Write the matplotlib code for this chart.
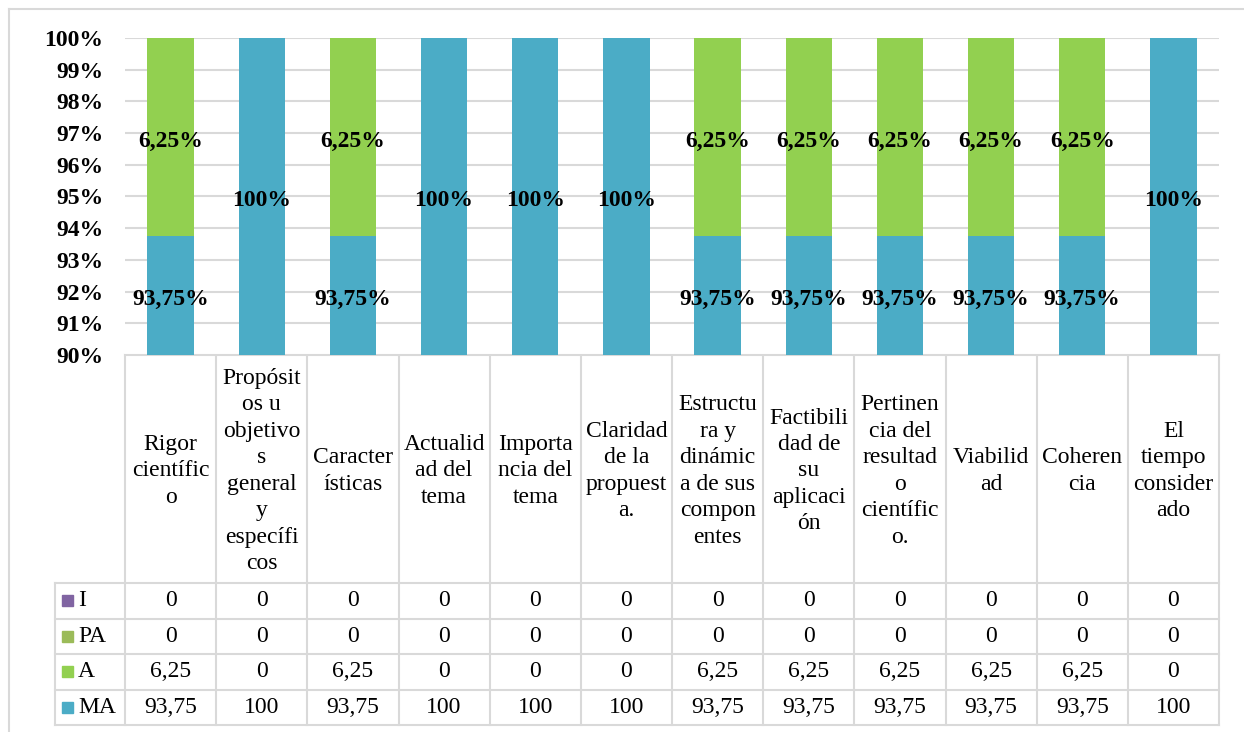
import matplotlib
matplotlib.use("Agg")
import matplotlib.pyplot as plt
from matplotlib.patches import Rectangle
from matplotlib.lines import Line2D

plt.rcParams["font.family"] = ["Liberation Serif", "DejaVu Serif"]

# data
categories = [
    "Rigor\ncientífic\no",
    "Propósit\nos u\nobjetivo\ns\ngeneral\ny\nespecífi\ncos",
    "Caracter\nísticas",
    "Actualid\nad del\ntema",
    "Importa\nncia del\ntema",
    "Claridad\nde la\npropuest\na.",
    "Estructu\nra y\ndinámic\na de sus\ncompon\nentes",
    "Factibili\ndad de\nsu\naplicaci\nón",
    "Pertinen\ncia del\nresultad\no\ncientífic\no.",
    "Viabilid\nad",
    "Coheren\ncia",
    "El\ntiempo\nconsider\nado",
]
I_vals = [0, 0, 0, 0, 0, 0, 0, 0, 0, 0, 0, 0]
PA_vals = [0, 0, 0, 0, 0, 0, 0, 0, 0, 0, 0, 0]
A_vals = [6.25, 0, 6.25, 0, 0, 0, 6.25, 6.25, 6.25, 6.25, 6.25, 0]
MA_vals = [93.75, 100, 93.75, 100, 100, 100, 93.75, 93.75, 93.75, 93.75, 93.75, 100]

series = [("I", I_vals, "#8064A2"), ("PA", PA_vals, "#9BBB59"),
          ("A", A_vals, "#92D050"), ("MA", MA_vals, "#4BACC6")]

def fmt(v):
    s = ("%.2f" % v).rstrip("0").rstrip(".")
    return s.replace(".", ",")

W, H = 1244, 732
fig = plt.figure(figsize=(W / 100, H / 100), dpi=100)

# layout in pixels
left, right, top, bottom = 125, 1219, 38, 355
leg_left = 55
row_tops = [583, 618.5, 654, 689.5, 725]
grid_col = "#D9D9D9"
fs = 17

# outer chart border
bg = fig.add_axes([0, 0, 1, 1])
bg.set_xlim(0, W)
bg.set_ylim(H, 0)
bg.axis("off")
bg.add_line(Line2D([9, W + 5], [9, 9], color=grid_col, lw=1.5))
bg.add_line(Line2D([9, 9], [9, H + 5], color=grid_col, lw=1.5))

# bar chart
ax = fig.add_axes([left / W, 1 - bottom / H, (right - left) / W, (bottom - top) / H])
x = list(range(len(categories)))
bottoms = [0] * len(categories)
ymin, ymax = 90, 100
for name, vals, col in series[::-1]:
    ax.bar(x, vals, bottom=bottoms, width=0.51, color=col, zorder=2)
    for i, v in enumerate(vals):
        if v > 0:
            lo = max(bottoms[i], ymin)
            hi = min(bottoms[i] + v, ymax)
            ax.annotate(fmt(v) + "%", (i, (lo + hi) / 2), xytext=(0, -4),
                        textcoords="offset pixels", ha="center", va="center",
                        fontsize=fs, fontweight="bold", zorder=3)
    bottoms = [b + v for b, v in zip(bottoms, vals)]

ax.set_xlim(-0.5, len(categories) - 0.5)
ax.set_ylim(ymin, ymax)
ax.set_yticks(range(90, 101))
ax.set_yticklabels(["%d%%" % t for t in range(90, 101)], fontsize=fs, fontweight="bold")
ax.tick_params(axis="y", length=0, pad=15.5)
ax.set_xticks([])
ax.grid(axis="y", color=grid_col, lw=1.5, zorder=0)
for s in ax.spines.values():
    s.set_visible(False)

# data table
colw = (right - left) / len(categories)
tab = bg
lc = "#D9D9D9"
lw = 1.5
# horizontal lines
tab.add_line(Line2D([left, right], [bottom, bottom], color=lc, lw=lw))
for yy in row_tops:
    tab.add_line(Line2D([leg_left, right], [yy, yy], color=lc, lw=lw))
# vertical lines
tab.add_line(Line2D([leg_left, leg_left], [row_tops[0], row_tops[-1]], color=lc, lw=lw))
for i in range(len(categories) + 1):
    xx = left + i * colw
    tab.add_line(Line2D([xx, xx], [bottom, row_tops[-1]], color=lc, lw=lw))

# category header
for i, c in enumerate(categories):
    tab.text(left + (i + 0.5) * colw, (bottom + row_tops[0]) / 2 + 2, c, ha="center",
             va="center", fontsize=fs, linespacing=1.34)

# rows
for r, (name, vals, col) in enumerate(series):
    yc = (row_tops[r] + row_tops[r + 1]) / 2
    tab.add_patch(Rectangle((62, yc - 5.5), 11, 11, color=col))
    tab.text(78, yc, name, ha="left", va="center", fontsize=fs)
    for i, v in enumerate(vals):
        tab.text(left + (i + 0.5) * colw, yc, fmt(v), ha="center", va="center", fontsize=fs)

fig.savefig("out.png", dpi=100)
